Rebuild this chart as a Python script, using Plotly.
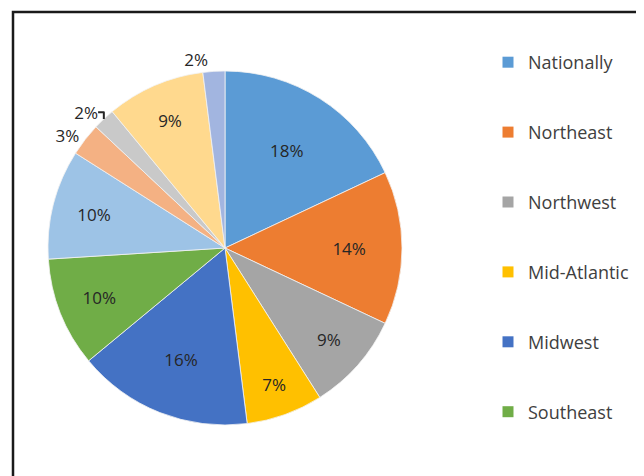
import plotly.graph_objects as go

# Data
regions = ["Nationally", "Northeast", "Northwest", "Mid-Atlantic", "Midwest", "Southeast",
           "Region 7", "Region 8", "Region 9", "Region 10", "Region 11"]
shares = [18, 14, 9, 7, 16, 10, 10, 3, 2, 9, 2]
legend_regions = ["Nationally", "Northeast", "Northwest", "Mid-Atlantic", "Midwest", "Southeast"]

colors = ["#5B9BD5", "#ED7D31", "#A5A5A5", "#FFC000", "#4472C4", "#70AD47",
          "#9DC3E6", "#F4B183", "#C9C9C9", "#FFD98E", "#A2B5E0"]
positions = ["inside" if v >= 5 else "outside" for v in shares]

W, H = 644, 476
OFF = 8  # page body margin offset


def px(x):
    return (x - OFF) / W


def py(y):
    return 1 - (y - OFF) / H


fig = go.Figure()
fig.add_trace(go.Pie(
    labels=regions, values=shares, sort=False, direction="clockwise", rotation=0,
    marker=dict(colors=colors, line=dict(color="#F2F2F2", width=0.8)),
    textinfo="percent", textposition=positions, insidetextorientation="horizontal",
    textfont=dict(family="Open Sans", size=17, color="#262626"),
    showlegend=False, hoverinfo="label+percent",
    domain=dict(x=[px(48), px(402)], y=[py(425), py(71)]),
))

for name in legend_regions:
    fig.add_trace(go.Scatter(
        x=[None], y=[None], mode="markers", name=name, legendgroup=name,
        marker=dict(symbol="square", size=11, color=colors[regions.index(name)]),
    ))

fig.update_layout(
    width=W, height=H, margin=dict(l=0, r=0, t=0, b=0),
    paper_bgcolor="white", plot_bgcolor="white",
    xaxis=dict(visible=False), yaxis=dict(visible=False),
    legend=dict(x=px(488), xanchor="left", y=py(44), yanchor="top",
                traceorder="grouped", tracegroupgap=43.5,
                font=dict(family="Open Sans", size=18, color="#404040"),
                bgcolor="rgba(0,0,0,0)"),
    font=dict(family="Open Sans"),
    shapes=[dict(type="rect", xref="paper", yref="paper",
                 x0=px(13), x1=px(642), y0=-0.05, y1=py(12),
                 line=dict(color="#1a1a1a", width=2.5))],
)

fig.write_html("out.html")
